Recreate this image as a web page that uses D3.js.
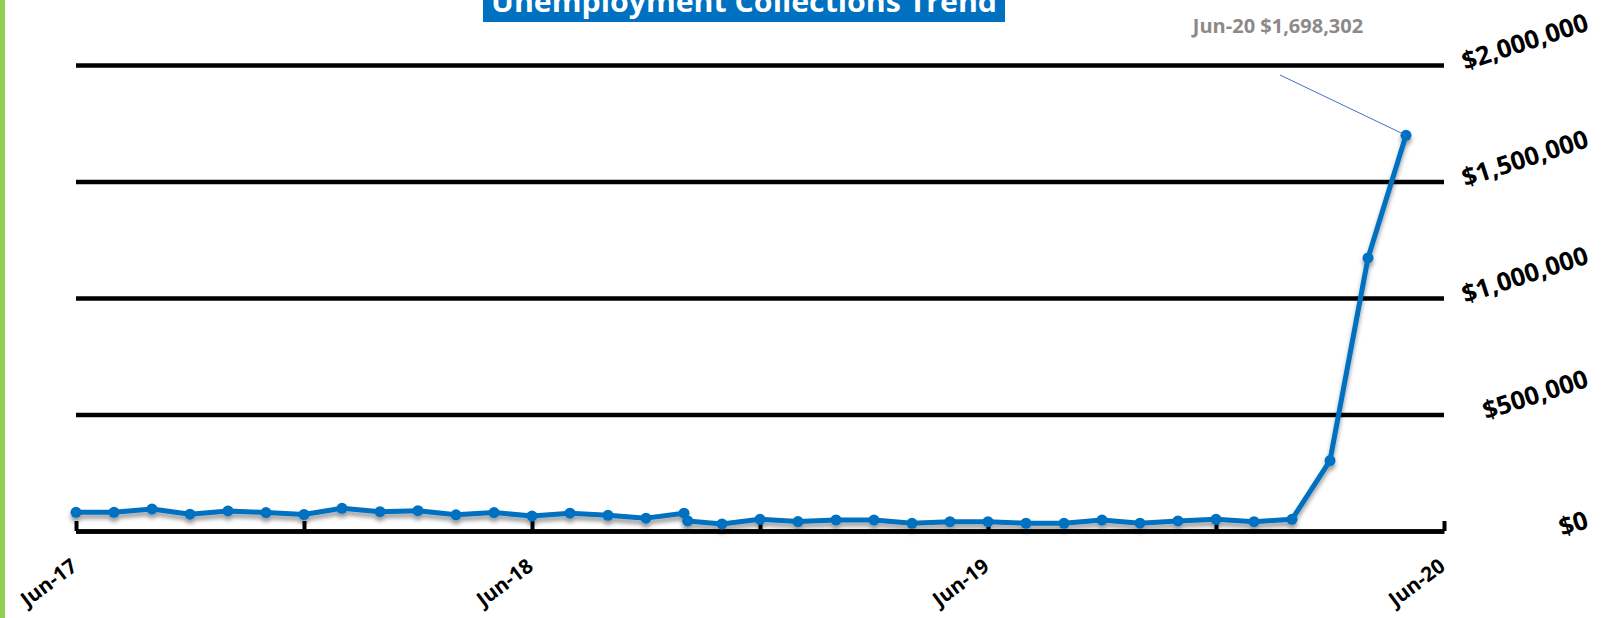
<!DOCTYPE html>
<html>
<head>
<meta charset="utf-8">
<script src="https://cdn.jsdelivr.net/npm/d3@7"></script>
<style>
  html, body { margin: 0; padding: 0; background: #fff; }
  svg { display: block; }
</style>
</head>
<body>
<div id="chart"></div>
<script>
// data (month-start dates; one extra reading early Oct-18)
const dates = [
  "2017-06-01", "2017-07-01", "2017-08-01", "2017-09-01", "2017-10-01", "2017-11-01",
  "2017-12-01", "2018-01-01", "2018-02-01", "2018-03-01", "2018-04-01", "2018-05-01",
  "2018-06-01", "2018-07-01", "2018-08-01", "2018-09-01", "2018-10-01", "2018-10-04",
  "2018-11-01", "2018-12-01", "2019-01-01", "2019-02-01", "2019-03-01", "2019-04-01",
  "2019-05-01", "2019-06-01", "2019-07-01", "2019-08-01", "2019-09-01", "2019-10-01",
  "2019-11-01", "2019-12-01", "2020-01-01", "2020-02-01", "2020-03-01", "2020-04-01",
  "2020-05-01"
];
const collections = [
  80400, 80100, 94200, 72300, 86100, 79200,
  70800, 97300, 83100, 87200, 69300, 79100,
  64200, 76300, 67100, 55200, 76400, 43100,
  30200, 50100, 40300, 47200, 46900, 33200,
  40100, 40200, 33300, 33100, 47100, 33400,
  43200, 50300, 40200, 50100, 302400, 1172000,
  1698302
];
const yTicks = [0, 500000, 1000000, 1500000, 2000000];
const xLabels = ["Jun-17", "Jun-18", "Jun-19", "Jun-20"];
const title = "Unemployment Collections Trend";
const callout = "Jun-20 $1,698,302";

const width = 1606, height = 618;
const margin = { top: 65, right: 162, bottom: 87, left: 76 };
const start = new Date(2017, 5, 1);

// months since Jun-17, fractional inside a month (Excel style date axis)
const monthPos = s => {
  const d = d3.timeParse("%Y-%m-%d")(s);
  const m0 = d3.timeMonth.floor(d);
  const dim = d3.timeDay.count(m0, d3.timeMonth.offset(m0, 1));
  return d3.timeMonth.count(start, m0) + (d.getDate() - 1) / dim;
};

const data = dates.map((d, i) => ({ m: monthPos(d), value: collections[i] }));

const x = d3.scaleLinear().domain([0, 36]).range([margin.left, width - margin.right]);
const y = d3.scaleLinear().domain([0, 2000000]).range([height - margin.bottom, margin.top]);

const svg = d3.select("#chart").append("svg")
  .attr("width", width).attr("height", height);

const defs = svg.append("defs");
const shadow = defs.append("filter").attr("id", "shadow")
  .attr("x", "-5%").attr("y", "-5%").attr("width", "110%").attr("height", "120%");
shadow.append("feDropShadow")
  .attr("dx", 0).attr("dy", 4).attr("stdDeviation", 2.2)
  .attr("flood-color", "#000").attr("flood-opacity", 0.4);

// green frame edge on the left
svg.append("rect").attr("x", 0).attr("y", 0).attr("width", 5).attr("height", height)
  .attr("fill", "#92D050");

// gridlines + y labels on the right
const yAxis = svg.append("g")
  .attr("transform", "translate(" + x.range()[1] + ",0)")
  .call(d3.axisRight(y).tickValues(yTicks).tickSize(-(x.range()[1] - x.range()[0]))
    .tickFormat(d3.format("$,")));
yAxis.select(".domain").remove();
yAxis.selectAll(".tick line").attr("stroke", "#000").attr("stroke-width", 4.5);
yAxis.selectAll(".tick text")
  .attr("font-family", "'Open Sans', sans-serif")
  .attr("font-weight", 700)
  .attr("font-size", 25.5)
  .attr("fill", "#000")
  .attr("text-anchor", "end")
  .attr("x", null).attr("dy", null)
  .attr("transform", function() {
    const len = this.getComputedTextLength();
    const a = 18 * Math.PI / 180;
    return "translate(146," + (5 - len * Math.sin(a)) + ") rotate(-18)";
  });

// x axis with inward ticks every 6 months
const xAxis = svg.append("g")
  .attr("transform", "translate(0," + y(0) + ")")
  .call(d3.axisBottom(x).tickValues(d3.range(0, 37, 6)).tickSizeInner(-10).tickSizeOuter(0)
    .tickFormat(m => m % 12 === 0 ? xLabels[m / 12] : ""));
xAxis.select(".domain").attr("stroke", "#000").attr("stroke-width", 4.5);
xAxis.selectAll(".tick line").attr("stroke", "#000").attr("stroke-width", 4);
xAxis.selectAll(".tick text")
  .attr("font-family", "'Open Sans', sans-serif")
  .attr("font-weight", 700)
  .attr("font-size", 20.5)
  .attr("fill", "#000")
  .attr("text-anchor", "end")
  .attr("y", null).attr("dy", null)
  .attr("transform", "translate(2,38) rotate(-37)");

// series
const line = d3.line().x(d => x(d.m)).y(d => y(d.value));
const series = svg.append("g").attr("filter", "url(#shadow)");
series.append("path")
  .datum(data)
  .attr("d", line)
  .attr("fill", "none")
  .attr("stroke", "#0070C0")
  .attr("stroke-width", 5)
  .attr("stroke-linejoin", "round");
series.selectAll("circle")
  .data(data)
  .join("circle")
  .attr("cx", d => x(d.m))
  .attr("cy", d => y(d.value))
  .attr("r", 5.5)
  .attr("fill", "#0070C0");

// callout on the last point
const last = data[data.length - 1];
const lx = x(last.m) - 126;
svg.append("line")
  .attr("x1", lx).attr("y1", y(2000000) + 10)
  .attr("x2", x(last.m)).attr("y2", y(last.value))
  .attr("stroke", "#4472C4").attr("stroke-width", 1);
svg.append("text")
  .attr("x", lx - 2).attr("y", 33)
  .attr("text-anchor", "middle")
  .attr("font-family", "'Open Sans', sans-serif")
  .attr("font-weight", 700)
  .attr("font-size", 20)
  .attr("fill", "#8c8a88")
  .text(callout);

// title box, cut at the top edge
svg.append("rect")
  .attr("x", 483).attr("y", -12).attr("width", 522).attr("height", 34)
  .attr("fill", "#0070C0");
svg.append("text")
  .attr("x", 744).attr("y", 11.5)
  .attr("text-anchor", "middle")
  .attr("font-family", "'Open Sans', sans-serif")
  .attr("font-weight", 700)
  .attr("font-size", 28)
  .attr("fill", "#fff")
  .attr("textLength", 506)
  .attr("lengthAdjust", "spacingAndGlyphs")
  .text(title);
</script>
</body>
</html>
